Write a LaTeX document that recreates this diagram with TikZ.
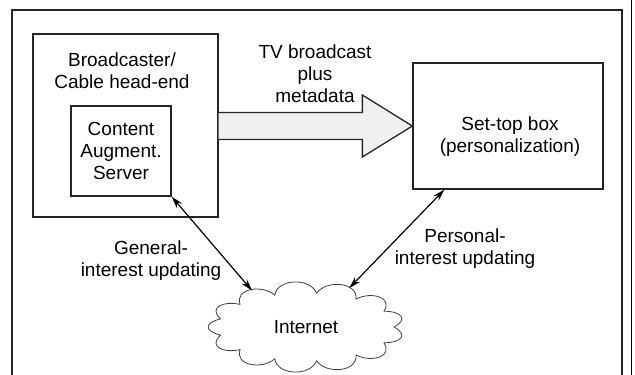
\documentclass[tikz,border=0pt]{standalone}
\usepackage{fontspec}
\setmainfont{Liberation Sans}
\usetikzlibrary{shapes.geometric,arrows.meta,calc}
\tikzset{
  boxline/.style={draw=black!85, line width=1.3pt},
  boxnode/.style={boxline, rectangle, inner sep=0pt},
  lbl/.style={align=center, inner sep=0pt, font=\fontsize{19}{22}\selectfont},
  link/.style={line width=1.2pt, {Stealth[length=12pt,width=7pt]}-{Stealth[length=12pt,width=7pt]}},
  bigarrow/.style={draw=black!85, line width=1.3pt, fill=black!6, line join=miter},
  netnode/.style={ellipse, minimum width=200pt, minimum height=86pt, inner sep=0pt, font=\fontsize{19}{22}\selectfont},
  cloudline/.style={draw=black!75, line width=0.8pt, line join=round}
}
\begin{document}
\begin{tikzpicture}[x=1pt,y=-1pt]
\useasboundingbox (0,0) rectangle (635,375);
% outer frame (open at the bottom) and page edge line
\draw[black!85, line width=1.3pt] (12,376) -- (12,10) -- (622,10) -- (622,376);
\draw[black, line width=1pt] (631,0) -- (631,375);
% boxes
\node[boxnode, minimum width=185pt, minimum height=183pt] (bc) at (125.5,125.5) {};
\node[lbl] (bclbl) at (122,71) {Broadcaster/\\Cable head-end};
\node[boxnode, lbl, minimum width=100pt, minimum height=90pt] (cas) at (121,151) {Content\\Augment.\\Server};
\node[boxnode, minimum width=190pt, minimum height=126pt] (stb) at (508,126) {};
\node[lbl] (stblbl) at (510,137) {Set-top box\\(personalization)};
% broadcast arrow
\coordinate (tip) at (stb.west);
\draw[bigarrow] ($(bc.east|-tip)+(0,-13.5)$) -- ($(tip)+(-50,-13.5)$) -- ($(tip)+(-50,-31)$)
  -- (tip) -- ($(tip)+(-50,31)$) -- ($(tip)+(-50,13.5)$) -- ($(bc.east|-tip)+(0,13.5)$);
\node[lbl] (tvlbl) at (315,74) {TV broadcast\\plus\\metadata};
% cloud
\node[netnode] (net) at (306,327) {Internet};
\draw[cloudline] ($(net.center)+(88,0)$)
  \foreach \i [evaluate=\i as \a using \i*360/13, evaluate=\i as \b using (\i+1)*360/13] in {0,...,12} {
    .. controls ($(net.center)+({88*cos(\a)+17*cos(\a+28)},{34*sin(\a)+17*sin(\a+28)})$)
    and ($(net.center)+({88*cos(\b)+17*cos(\b-28)},{34*sin(\b)+17*sin(\b-28)})$)
    .. ($(net.center)+({88*cos(\b)},{34*sin(\b)})$)
  } -- cycle;
% links
\draw[link] (cas.south east) -- (net.146);
\draw[link] ($(stb.south west)+(32,0)$) -- (net.42);
\node[lbl] (genlbl) at (151,261) {General-\\interest updating};
\node[lbl] (perlbl) at (465,249) {Personal-\\interest updating};
\end{tikzpicture}
\end{document}
